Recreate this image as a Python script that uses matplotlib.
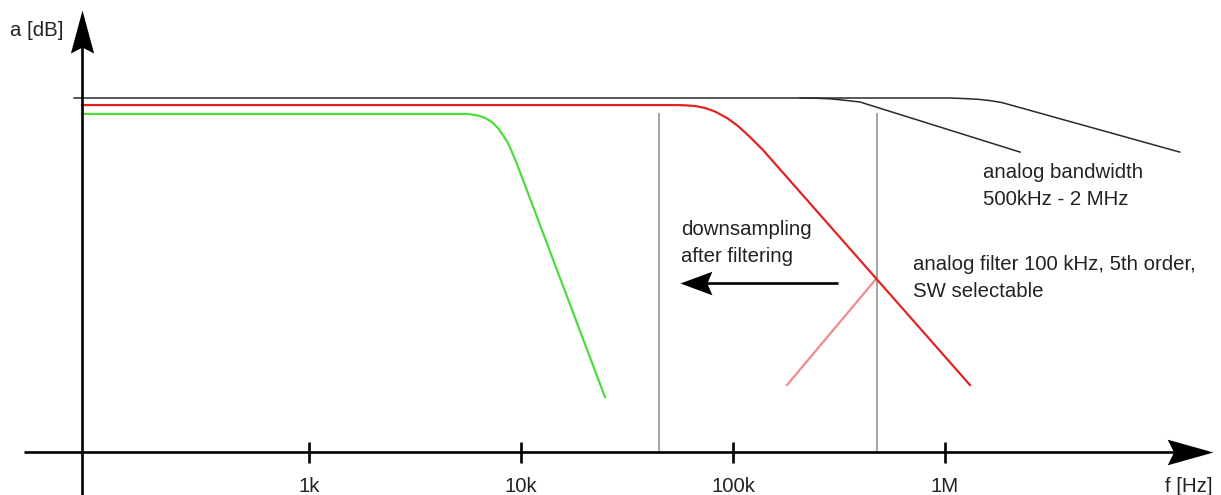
import numpy as np
import matplotlib
matplotlib.use('Agg')
import matplotlib.pyplot as plt
from matplotlib.path import Path
from matplotlib import transforms

plt.rcParams['font.family'] = ['Liberation Sans', 'DejaVu Sans']

# --- data (frequency in Hz, level in dB) ---
black_f = [78, 1.06e6, 1.243e6, 1.431e6, 1.631e6, 1.858e6, 12.8e6]
black_db = [0, 0, -0.17, -0.37, -0.74, -1.3, -15.3]

black2_f = [207e3, 243.7e3, 286.8e3, 337.7e3, 397.2e3, 2.26e6]
black2_db = [0, -0.06, -0.23, -0.65, -1.13, -15.3]

red_f = [85, 54400, 59380, 66210, 73780, 82260, 93700, 105600, 120300, 138500, 1312000]
red_db = [-2.0, -2.0, -2.07, -2.26, -2.83, -3.82, -5.66, -7.92, -11.03, -14.71, -81.2]

green_f = [85, 5560, 5750, 6270, 6770, 7300, 7790, 8230, 8680, 9070, 9580, 24900]
green_db = [-4.5, -4.5, -4.6, -4.95, -5.65, -6.8, -8.5, -10.5, -12.7, -15.3, -18.7, -84.6]

pink_f = [179800, 473000]
pink_db = [-81.2, -51.2]

gray_f = [45e3, 477e3]
gray_top = -4.2
floor_db = -100

tick_f = [1e3, 1e4, 1e5, 1e6]
tick_labels = ['1k', '10k', '100k', '1M']

W, H = 1221, 495


def fx(x):
    return x / W


def fy(y):
    return 1 - y / H


def arrow_marker(direction, ratio, notch):
    # concave arrow head, tip at origin
    v = np.array([(0, 0), (-1, ratio), (-notch, 0), (-1, -ratio), (0, 0)])
    if direction == 'up':
        v = np.column_stack([v[:, 1], -v[:, 0]])
        v[:, 1] = -v[:, 1]
    elif direction == 'left':
        v[:, 0] = -v[:, 0]
    codes = [Path.MOVETO, Path.LINETO, Path.LINETO, Path.LINETO, Path.CLOSEPOLY]
    return Path(v, codes)


fig = plt.figure(figsize=(12.21, 4.95), dpi=100)
ax = fig.add_axes([0, 0, 1, 1])
ax.axis('off')
ax.set_xscale('log')
ax.set_xlim(10**1.5425, 10**7.3019)
ax.set_ylim((98 - 495) / 3.535, 98 / 3.535)

ax.vlines(gray_f, floor_db, gray_top, color='#a3a3a3', lw=1.4)
ax.plot(black_f, black_db, color='#2a2a2a', lw=1.1)
ax.plot(black2_f, black2_db, color='#2a2a2a', lw=1.1)
ax.plot(pink_f, pink_db, color='#f28a8a', lw=1.6)
ax.plot(red_f, red_db, color='#e02424', lw=1.6)
ax.plot(green_f, green_db, color='#4cdc3c', lw=1.6)

tf = fig.transFigure
# axes lines with arrow heads
ax.plot([fx(24), fx(1190)], [fy(451.5), fy(451.5)], color='black', lw=1.9, transform=tf, solid_capstyle='butt')
ax.plot([fx(82), fx(82)], [fy(500), fy(35)], color='black', lw=1.9, transform=tf, solid_capstyle='butt')
ax.plot([fx(1213)], [fy(451.5)], marker=arrow_marker('right', 0.28, 0.86), ms=66, mew=0,
        color='black', transform=tf, clip_on=False)
ax.plot([fx(82)], [fy(10)], marker=arrow_marker('up', 0.27, 0.86), ms=62, mew=0,
        color='black', transform=tf, clip_on=False)

# ticks
blend = transforms.blended_transform_factory(ax.transData, tf)
ax.vlines(tick_f, fy(463), fy(442), color='black', lw=1.9, transform=blend)
for f, lab in zip(tick_f, tick_labels):
    ax.text(f, fy(492), lab, transform=blend, ha='center', va='baseline', fontsize=14.7, color='#222222')

# downsampling arrow
ax.plot([fx(838), fx(705)], [fy(283), fy(283)], color='black', lw=1.9, transform=tf, solid_capstyle='butt')
ax.plot([fx(680)], [fy(283)], marker=arrow_marker('left', 0.37, 0.84), ms=46, mew=0,
        color='black', transform=tf, clip_on=False)

txt = dict(fontsize=14.7, color='#222222', va='baseline', ha='left')
fig.text(fx(10), fy(36), 'a [dB]', **txt)
fig.text(fx(1165), fy(492), 'f [Hz]', **txt)
fig.text(fx(681), fy(235), 'downsampling', **txt)
fig.text(fx(681), fy(261.7), 'after filtering', **txt)
fig.text(fx(983), fy(178.3), 'analog bandwidth', **txt)
fig.text(fx(983), fy(205), '500kHz - 2 MHz', **txt)
fig.text(fx(913), fy(270), 'analog filter 100 kHz, 5th order,', **txt)
fig.text(fx(913), fy(297), 'SW selectable', **txt)

fig.savefig('out.png', dpi=100)
